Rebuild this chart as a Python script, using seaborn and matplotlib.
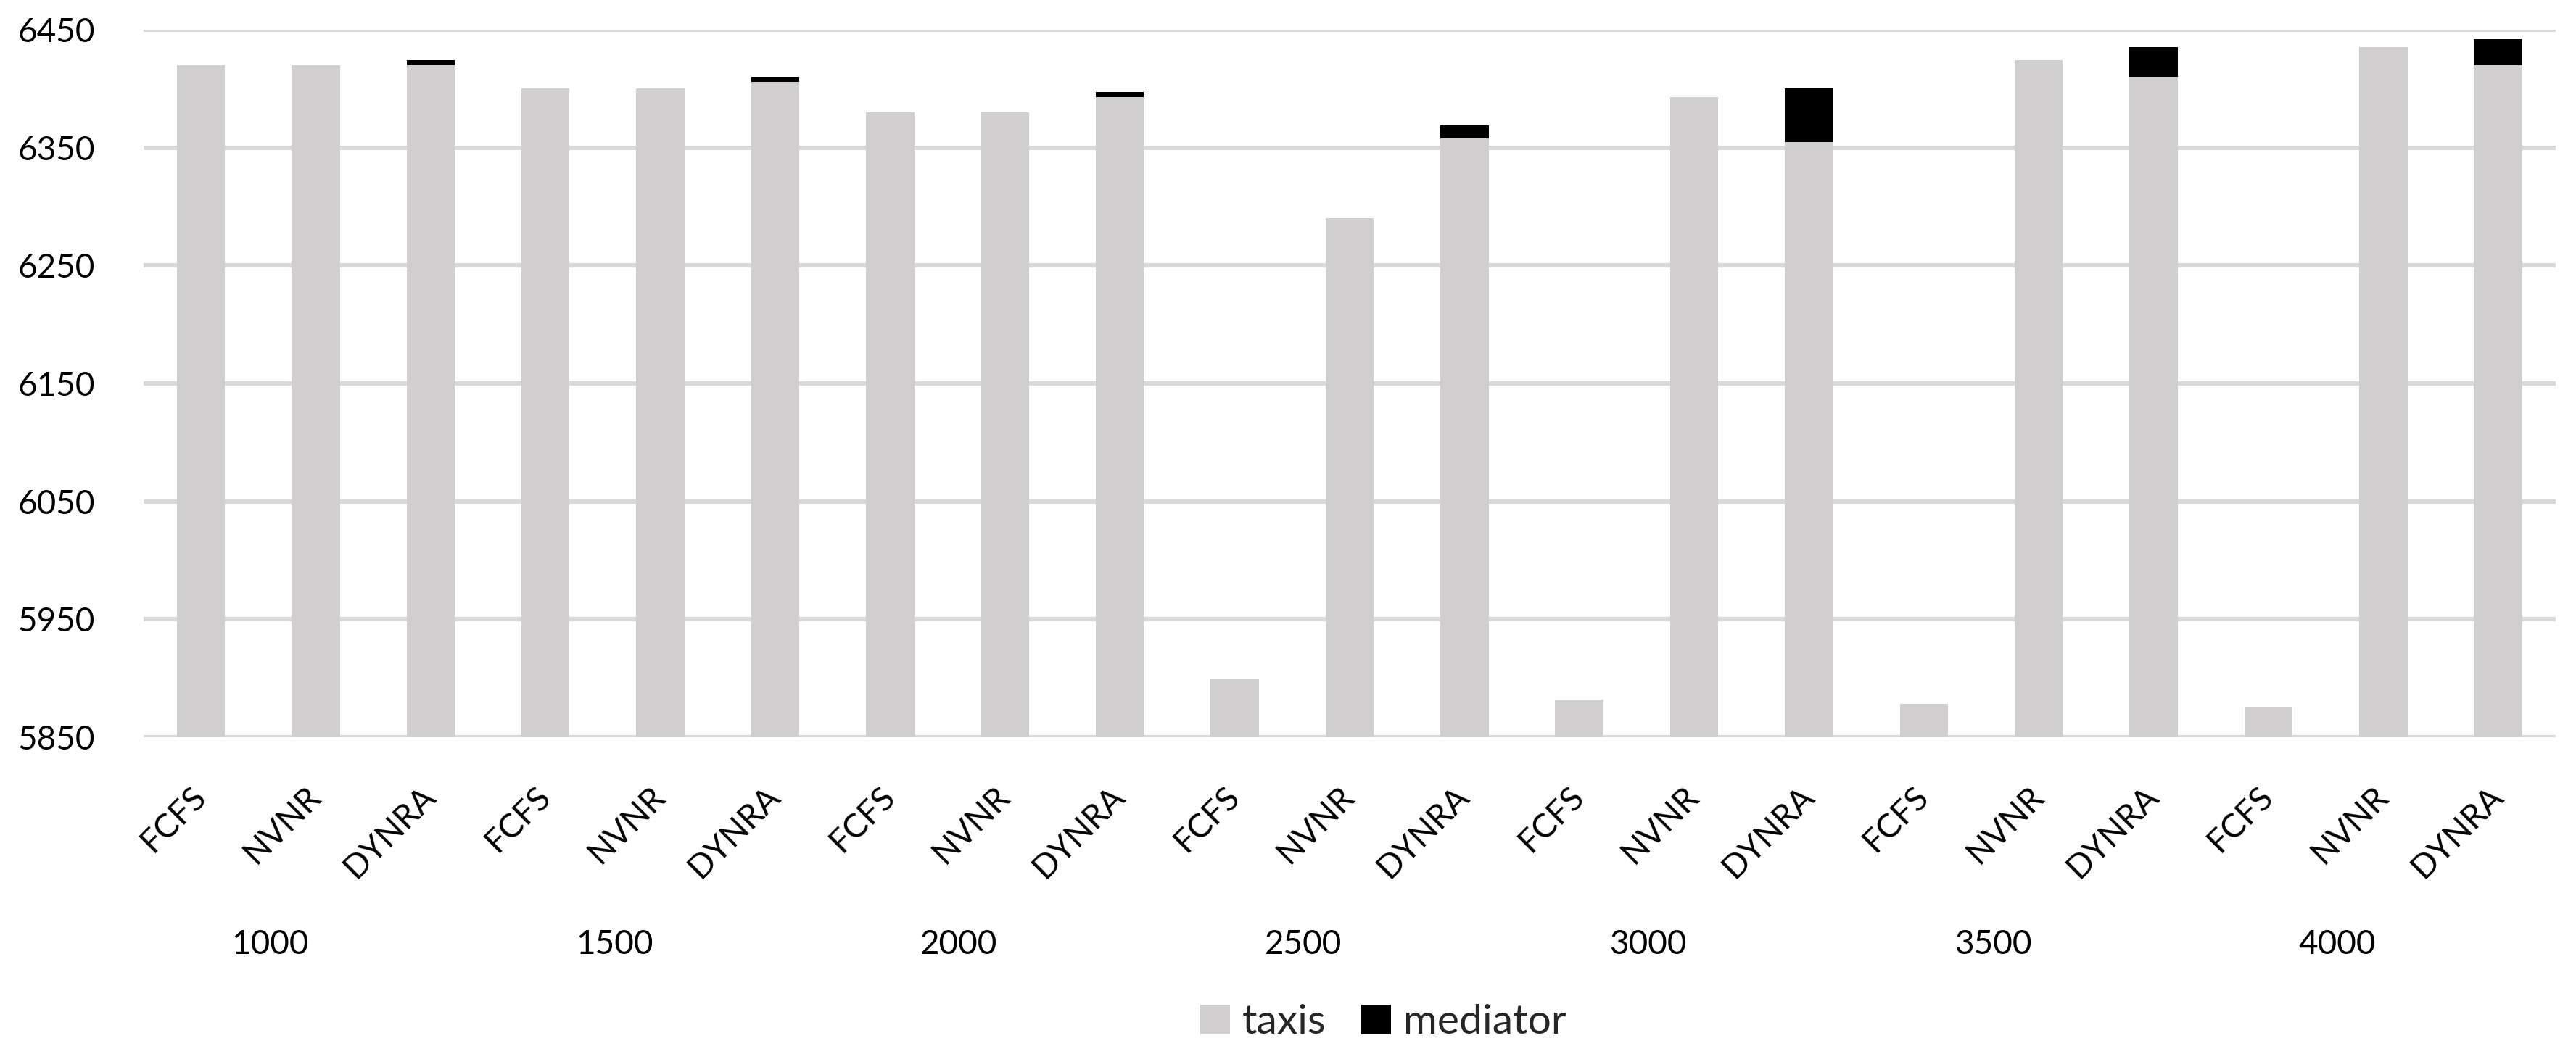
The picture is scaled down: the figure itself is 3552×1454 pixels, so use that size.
import pandas as pd
import matplotlib
matplotlib.use("Agg")
import matplotlib.pyplot as plt
from matplotlib.patches import Patch
import seaborn as sns

# fleet sizes (outer category) and dispatch methods (inner category)
groups = ["1000", "1500", "2000", "2500", "3000", "3500", "4000"]
methods = ["FCFS", "NVNR", "DYNRA"]

# values, one list per method, in group order
taxis_fcfs = [6420, 6400, 6380, 5900, 5882, 5878, 5875]
taxis_nvnr = [6420, 6400, 6380, 6290, 6393, 6424, 6435]
taxis_dynra = [6420, 6406, 6393, 6358, 6355, 6410, 6420]
mediator_dynra = [4, 4, 4, 11, 45, 25, 22]

GRAY = "#d0cece"
BLACK = "#000000"
GRID = "#d9d9d9"

rows = []
for i, g in enumerate(groups):
    vals = {
        "FCFS": (taxis_fcfs[i], 0),
        "NVNR": (taxis_nvnr[i], 0),
        "DYNRA": (taxis_dynra[i], mediator_dynra[i]),
    }
    for m in methods:
        t, med = vals[m]
        rows.append({"key": g + " " + m, "group": g, "method": m,
                     "taxis": t, "mediator": med, "total": t + med})
df = pd.DataFrame(rows)

sns.set_theme(style="white")
plt.rcParams["font.family"] = ["Lato", "DejaVu Sans"]

fig = plt.figure(figsize=(17.76, 7.27), dpi=200)
ax = fig.add_axes([0.0557, 0.3006, 0.9921 - 0.0557, 0.9718 - 0.3006])

# stacked: total in black underneath, taxis in gray on top
sns.barplot(data=df, x="key", y="total", color=BLACK, saturation=1,
            width=0.42, errorbar=None, ax=ax, zorder=2, linewidth=0)
sns.barplot(data=df, x="key", y="taxis", color=GRAY, saturation=1,
            width=0.42, errorbar=None, ax=ax, zorder=3, linewidth=0)

ax.set_ylim(5850, 6450)
ax.set_yticks(range(5850, 6451, 100))
ax.set_xlim(-0.5, len(df) - 0.5)
ax.set_xlabel("")
ax.set_ylabel("")

ax.set_axisbelow(True)
ax.yaxis.grid(True, color=GRID, linewidth=2.2)
ax.xaxis.grid(False)
for s in ax.spines.values():
    s.set_visible(False)

ax.tick_params(axis="y", length=0, pad=24, labelsize=16.5, labelcolor="black")
ax.tick_params(axis="x", length=0, pad=27, labelsize=16.5, labelcolor="black")
ax.set_xticks(range(len(df)))
ax.set_xticklabels(df["method"], rotation=45, ha="right", va="center",
                   rotation_mode="anchor")

# outer category labels
for i, g in enumerate(groups):
    ax.text(i * 3 + 1 - 0.4, -0.293, g, transform=ax.get_xaxis_transform(),
            ha="center", va="center", fontsize=16.5, color="black")

handles = [Patch(facecolor=GRAY, edgecolor="none", label="taxis"),
           Patch(facecolor=BLACK, edgecolor="none", label="mediator")]
fig.legend(handles=handles, loc="center", bbox_to_anchor=(0.537, 0.0296),
           ncol=2, frameon=False, fontsize=20.5, handlelength=0.72,
           handleheight=0.72, handletextpad=0.3, columnspacing=0.85)

fig.savefig("out.png", dpi=200)
